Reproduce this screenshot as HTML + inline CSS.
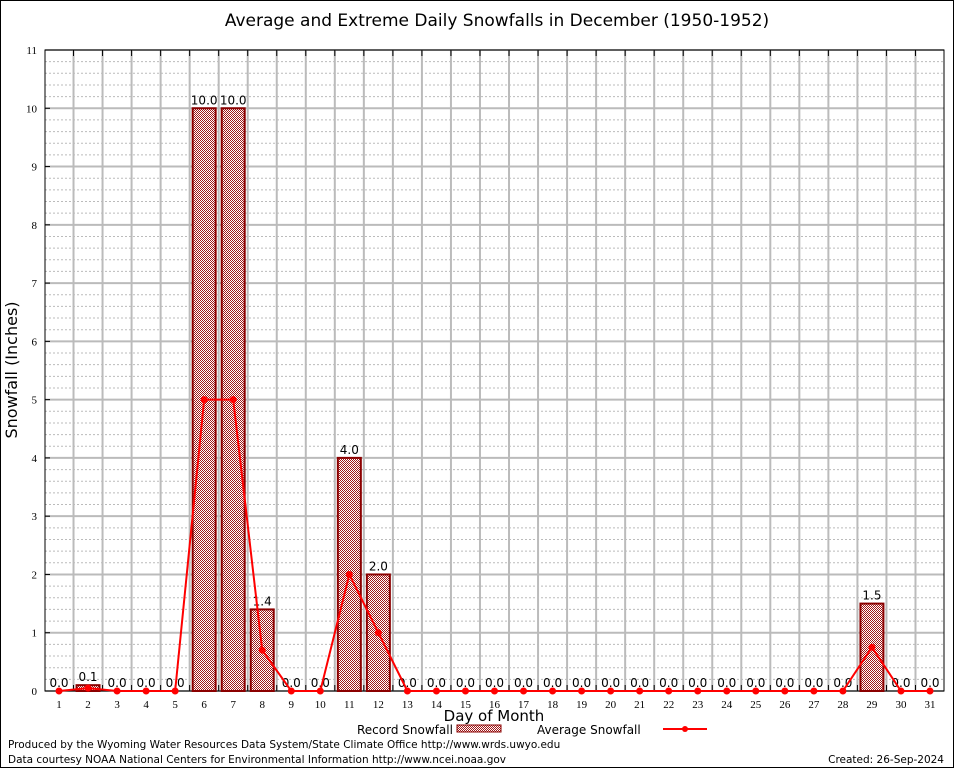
<!DOCTYPE html>
<html><head><meta charset="utf-8"><style>
body{margin:0;background:#fff}
svg{display:block;font-family:"DejaVu Sans","Liberation Sans",sans-serif}
</style></head><body>
<svg id="c" width="954" height="768">
<defs><pattern id="hatch" width="2" height="2" patternUnits="userSpaceOnUse">
<rect width="2" height="2" fill="#fff"/><rect width="1" height="1" fill="#a01818"/><rect x="1" y="1" width="1" height="1" fill="#a01818"/></pattern></defs>
<rect x="0.5" y="0.5" width="953" height="767" fill="#fff" stroke="#000"/>
<text x="497" y="26" font-size="17" text-anchor="middle">Average and Extreme Daily Snowfalls in December (1950-1952)</text>
<g id="grid"></g><g id="marks"></g>
<text transform="translate(17,370) rotate(-90)" font-size="16" text-anchor="middle">Snowfall (Inches)</text>
<text x="494" y="721" font-size="15" text-anchor="middle">Day of Month</text>
<g><text x="357" y="734" font-size="12">Record Snowfall</text><rect x="457" y="725" width="44" height="7" fill="url(#hatch)" stroke="#8b0000"/></g>
<g><text x="537" y="734" font-size="12">Average Snowfall</text><line x1="663" y1="729" x2="707" y2="729" stroke="#f00" stroke-width="2"/><circle cx="685" cy="729" r="3" fill="#f00"/></g>
<text x="8" y="748" font-size="10.5">Produced by the Wyoming Water Resources Data System/State Climate Office http://www.wrds.uwyo.edu</text>
<text x="8" y="763" font-size="10.5">Data courtesy NOAA National Centers for Environmental Information http://www.ncei.noaa.gov</text>
<text x="944" y="763" font-size="10.5" text-anchor="end">Created:  26-Sep-2024</text>
</svg>
<script>
const days=[1,2,3,4,5,6,7,8,9,10,11,12,13,14,15,16,17,18,19,20,21,22,23,24,25,26,27,28,29,30,31];
const recordSnow=[0,0.1,0,0,0,10,10,1.4,0,0,4,2,0,0,0,0,0,0,0,0,0,0,0,0,0,0,0,0,1.5,0,0];
const avgSnow=[0,0.05,0,0,0,5,5,0.7,0,0,2,1,0,0,0,0,0,0,0,0,0,0,0,0,0,0,0,0,0.75,0,0];
const yTicks=[0,1,2,3,4,5,6,7,8,9,10,11];
const L=45,R=944,T=50,B=691,yMax=11;
const X=d=>59+(d-1)*(930-59)/30;
const Y=v=>B-v*(B-T)/yMax;
const NS="http://www.w3.org/2000/svg";
function mk(p,tag,a,txt){const e=document.createElementNS(NS,tag);for(const k in a)e.setAttribute(k,a[k]);if(txt!=null)e.textContent=txt;p.appendChild(e);return e;}
const g=document.getElementById('grid'),m=document.getElementById('marks');
for(let v=0.2;v<yMax;v+=0.2){if(Math.abs(v-Math.round(v))<0.01)continue;const l=mk(g,'line',{x1:L,x2:R,y1:Y(v),y2:Y(v),stroke:'#bbb','stroke-dasharray':'2,2'});

}
yTicks.forEach(v=>{const l=mk(g,'line',{x1:L,x2:R,y1:Y(v),y2:Y(v),stroke:'#bbb','stroke-width':2});


const t=mk(g,'text',{x:L-8,y:Y(v)+4,'font-size':11,'text-anchor':'end','font-family':'Liberation Serif,serif'},v);


mk(g,'line',{x1:L,x2:L+5,y1:Y(v),y2:Y(v),stroke:'#000'});});
for(let i=0;i<days.length-1;i++){const x=(X(days[i])+X(days[i+1]))/2;const l=mk(g,'line',{x1:x,x2:x,y1:T,y2:B,stroke:'#bbb','stroke-width':2});


mk(g,'line',{x1:x,x2:x,y1:T,y2:T+6,stroke:'#000'});mk(g,'line',{x1:x,x2:x,y1:B,y2:B-6,stroke:'#000'});}
mk(g,'rect',{x:L,y:T,width:R-L,height:B-T,fill:'none',stroke:'#000'});
days.forEach((d,i)=>{const t=mk(g,'text',{x:X(d),y:B+17,'font-size':11,'text-anchor':'middle','font-family':'Liberation Serif,serif'},d);


const v=recordSnow[i];
if(v>0){const r=mk(m,'rect',{x:X(d)-11.5,y:Y(v),width:23,height:B-Y(v),fill:'url(#hatch)',stroke:'#8b0000','stroke-width':2});

}
const lb=mk(m,'text',{x:X(d),y:Y(v)-4,'font-size':12,'text-anchor':'middle'},v.toFixed(1));

});
const pl=mk(m,'polyline',{points:days.map((d,i)=>X(d)+','+Y(avgSnow[i])).join(' '),fill:'none',stroke:'#f00','stroke-width':2});


days.forEach((d,i)=>{const c=mk(m,'circle',{cx:X(d),cy:Y(avgSnow[i]),r:3.5,fill:'#f00'});

});
</script>
</body></html>
